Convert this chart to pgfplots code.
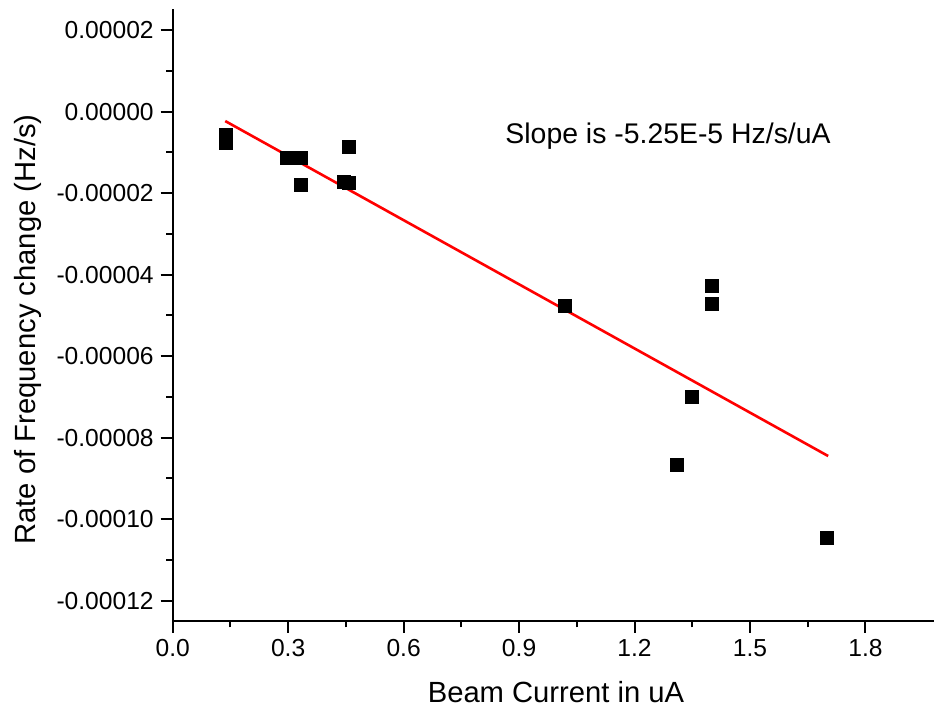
\documentclass[border=0pt]{standalone}
\usepackage{pgfplots}
\pgfplotsset{compat=1.18}
\usepackage{fontspec}
\setmainfont{Liberation Sans}
\begin{document}
\begin{tikzpicture}
\useasboundingbox (0,0) rectangle (467pt,357.5pt);
\begin{axis}[
  at={(86.35pt,47.15pt)}, anchor=south west,
  scale only axis, width=380.65pt, height=305.85pt,
  xmin=0, xmax=1.978, ymin=-0.0001249, ymax=0.0000252,
  axis lines=left,
  x axis line style={-}, y axis line style={-},
  axis line style={line width=1pt, black},
  tick align=outside,
  major tick length=6pt, minor tick length=3.3pt,
  tick style={black, line width=1pt},
  xtick={0,0.3,0.6,0.9,1.2,1.5,1.8},
  xticklabels={0.0,0.3,0.6,0.9,1.2,1.5,1.8},
  ytick={-0.00012,-0.0001,-0.00008,-0.00006,-0.00004,-0.00002,0,0.00002},
  yticklabels={-0.00012,-0.00010,-0.00008,-0.00006,-0.00004,-0.00002,0.00000,0.00002},
  minor x tick num=1, minor y tick num=1,
  scaled y ticks=false, scaled x ticks=false,
  /pgf/number format/assume math mode=true,
  tick label style={font=\fontsize{12.3}{14}\selectfont},
  clip=false,
]
\addplot[only marks, mark=square*, mark size=3.25pt, mark options={fill=black, draw=black}] coordinates {
  (0.138,-5.8e-6) (0.138,-7.6e-6) (0.298,-1.135e-5) (0.333,-1.135e-5)
  (0.333,-1.79e-5) (0.446,-1.72e-5) (0.459,-1.755e-5) (0.459,-8.7e-6)
  (1.0195,-4.77e-5) (1.401,-4.28e-5) (1.401,-4.71e-5) (1.3495,-7.0e-5)
  (1.310,-8.66e-5) (1.701,-1.045e-4)
};
\addplot[red, line width=1.3pt, no marks] coordinates {
  (0.1365,-2.30e-6) (1.703,-8.45e-5)
};
\node[anchor=base west, inner sep=0pt, font=\fontsize{14.2}{17}\selectfont] at (axis cs:0.8636,-7.75e-6) {Slope is -5.25E-5 Hz/s/uA};
\node[anchor=base, inner sep=0pt, font=\fontsize{14.6}{17}\selectfont] at (axis description cs:0.5035,-0.1345) {Beam Current in uA};
\node[anchor=base, rotate=90, inner sep=0pt, font=\fontsize{14.6}{17}\selectfont] at (axis description cs:-0.18,0.476) {Rate of Frequency change (Hz/s)};
\end{axis}
\end{tikzpicture}
\end{document}
